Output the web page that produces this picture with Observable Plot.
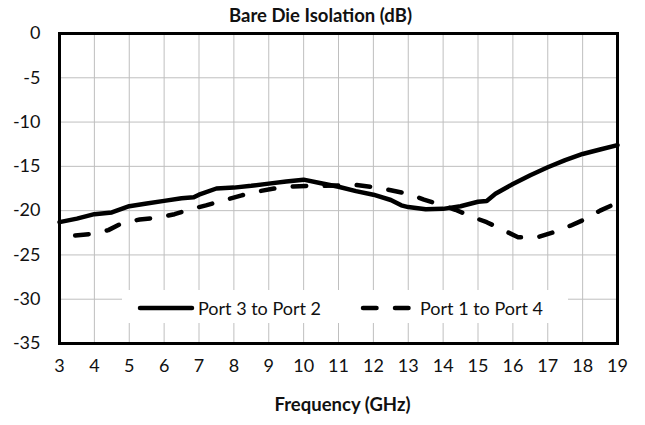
<!DOCTYPE html>
<html>
<head>
<meta charset="utf-8">
<script src="https://cdn.jsdelivr.net/npm/d3@7"></script>
<script src="https://cdn.jsdelivr.net/npm/@observablehq/plot@0.6"></script>
<style>
  html, body { margin: 0; padding: 0; background: #fff; }
  #wrap { position: relative; width: 645px; height: 425px; font-family: Lato, "Open Sans", sans-serif; }
  #legend { position: absolute; left: 122px; top: 290px; width: 446px; height: 33px; background: #fff; }
  #legend svg { position: absolute; left: 0; top: 0; }
</style>
</head>
<body>
<div id="wrap"></div>
<script>
const title = "Bare Die Isolation (dB)";
const xLabel = "Frequency (GHz)";
const xTicks = [3,4,5,6,7,8,9,10,11,12,13,14,15,16,17,18,19];
const yTicks = [0,-5,-10,-15,-20,-25,-30,-35];
const seriesNames = ["Port 3 to Port 2", "Port 1 to Port 4"];

const freq32 = [3.0,3.5,4.0,4.5,5.0,5.5,6.0,6.5,6.85,7.0,7.5,8.0,8.5,9.0,9.5,10.0,10.5,11.0,11.5,12.0,12.5,12.8,13.0,13.5,14.0,14.5,15.0,15.25,15.5,16.0,16.5,17.0,17.5,18.0,18.5,19.0];
const iso32  = [-21.3,-20.9,-20.4,-20.2,-19.5,-19.2,-18.9,-18.6,-18.5,-18.2,-17.5,-17.4,-17.2,-16.95,-16.7,-16.5,-16.9,-17.3,-17.8,-18.2,-18.8,-19.4,-19.6,-19.85,-19.8,-19.5,-19.0,-18.9,-18.1,-17.0,-16.0,-15.1,-14.3,-13.6,-13.1,-12.6];

const freq14 = [3.45,4.0,4.4,4.8,5.3,5.8,6.3,6.7,7.2,7.7,8.2,8.6,9.15,9.6,10.1,10.6,11.5,12.0,12.5,13.0,13.45,13.9,14.35,14.9,15.25,15.75,16.15,16.7,17.2,17.65,18.05,18.5,19.0];
const iso14  = [-22.8,-22.6,-22.2,-21.4,-21.0,-20.8,-20.4,-19.9,-19.4,-18.85,-18.3,-17.9,-17.5,-17.3,-17.2,-17.2,-17.1,-17.35,-17.7,-18.1,-18.75,-19.3,-19.9,-20.8,-21.3,-22.25,-23.0,-23.0,-22.4,-21.7,-21.0,-20.0,-19.1];

const s32 = freq32.map((f, i) => ({f, v: iso32[i]}));
const s14 = freq14.map((f, i) => ({f, v: iso14[i]}));

const DASH = "13.5,18.5";
const FONT = "Lato, 'Open Sans', sans-serif";

const chart = Plot.plot({
  width: 645,
  height: 425,
  marginLeft: 59,
  marginRight: 28,
  marginTop: 33,
  marginBottom: 82,
  style: {fontFamily: FONT, fontSize: "18px", color: "#111", background: "#fff"},
  x: {domain: [3, 19]},
  y: {domain: [-35, 0]},
  marks: [
    Plot.ruleX(xTicks, {stroke: "#bfbfbf", strokeWidth: 1}),
    Plot.ruleY(yTicks, {stroke: "#bfbfbf", strokeWidth: 1}),
    Plot.line(s32, {x: "f", y: "v", stroke: "#000", strokeWidth: 4.5, strokeLinejoin: "round", strokeLinecap: "round"}),
    Plot.line(s14, {x: "f", y: "v", stroke: "#000", strokeWidth: 4.5, strokeDasharray: DASH, strokeLinecap: "round", strokeLinejoin: "round"}),
    Plot.frame({stroke: "#000", strokeWidth: 3}),
    Plot.axisX(xTicks, {tickSize: 0, tickPadding: 16, fontSize: 18, label: null, tickFormat: d => String(d)}),
    Plot.axisY(yTicks, {tickSize: 0, tickPadding: 19, fontSize: 18, label: null, tickFormat: d => String(d)}),
    Plot.text([title], {frameAnchor: "top", dx: -18, dy: -17, fontWeight: "bold", fontSize: 18.5, lineAnchor: "middle"}),
    Plot.text([xLabel], {frameAnchor: "bottom", dx: 4, dy: 62, fontWeight: "bold", fontSize: 18.5, lineAnchor: "middle"})
  ]
});

const wrap = document.getElementById("wrap");
wrap.appendChild(chart);

const legend = document.createElement("div");
legend.id = "legend";
legend.innerHTML = `
<svg width="446" height="33" xmlns="http://www.w3.org/2000/svg" font-family="${FONT}" font-size="18" fill="#111">
  <line x1="18" y1="18" x2="70" y2="18" stroke="#000" stroke-width="4.5" stroke-linecap="round"/>
  <text x="76" y="18" dominant-baseline="central">${seriesNames[0]}</text>
  <line x1="241" y1="18" x2="291" y2="18" stroke="#000" stroke-width="4.5" stroke-linecap="round" stroke-dasharray="${DASH}"/>
  <text x="298" y="18" dominant-baseline="central">${seriesNames[1]}</text>
</svg>`;
wrap.appendChild(legend);
</script>
</body>
</html>
